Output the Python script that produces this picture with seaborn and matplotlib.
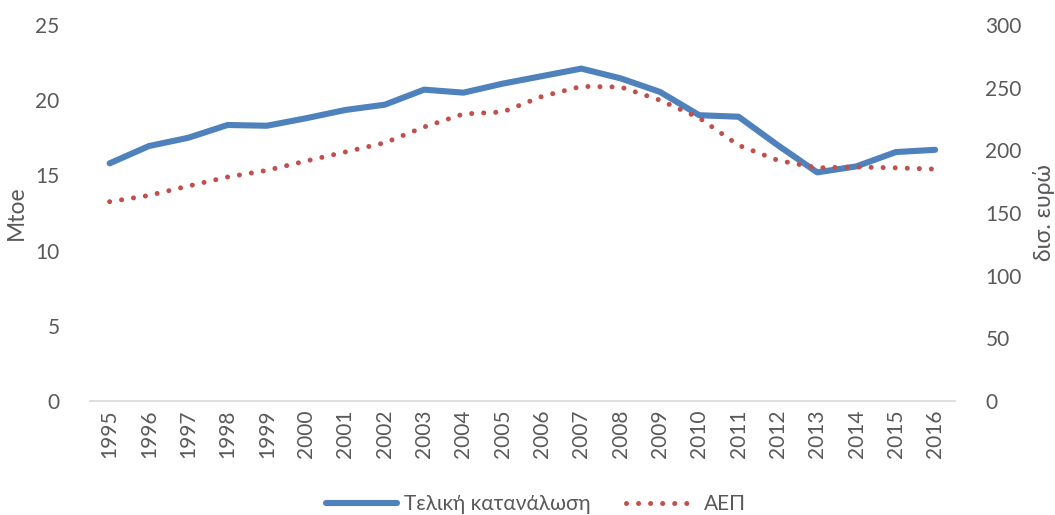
import matplotlib
matplotlib.use("Agg")
import matplotlib.pyplot as plt
import seaborn as sns
import pandas as pd

years = [str(y) for y in range(1995, 2017)]
consumption = [15.8, 16.95, 17.5, 18.35, 18.3, 18.8, 19.35, 19.7, 20.7, 20.5, 21.1,
               21.6, 22.1, 21.45, 20.55, 19.0, 18.9, 17.0, 15.2, 15.6, 16.55, 16.7]
gdp = [159, 164, 171.5, 178.7, 184, 191.5, 198.7, 206, 218.6, 229, 230.6,
       243, 251, 250.5, 240, 225.8, 204, 192, 186, 186.7, 186, 185]

sns.set_theme(style="white")
plt.rcParams['font.family'] = ['Lato', 'DejaVu Sans']
txt = '#595959'

df = pd.DataFrame({'year': years, 'cons': consumption, 'gdp': gdp})
df['x'] = range(len(years))

fig = plt.figure(figsize=(10.55, 5.15), dpi=100)
ax = fig.add_axes([0.0853, 0.2214, 0.8197, 0.7301])
ax2 = ax.twinx()

sns.lineplot(data=df, x='x', y='cons', ax=ax, color='#4F81BD', linewidth=4.4,
             solid_capstyle='round', solid_joinstyle='round',
             label='Τελική κατανάλωση', legend=False)
sns.lineplot(data=df, x='x', y='gdp', ax=ax2, color='#C0504D', linewidth=3.6,
             linestyle=(0, (0.01, 2.4)), dash_capstyle='round', label='ΑΕΠ', legend=False)

ax.set_xlim(-0.5, len(years) - 0.5)
ax.set_ylim(0, 25)
ax2.set_ylim(0, 300)
ax.set_yticks(range(0, 26, 5))
ax2.set_yticks(range(0, 301, 50))
ax.set_xticks(range(len(years)))
ax.set_xticklabels(years, rotation=90)

for a in (ax, ax2):
    for s in a.spines.values():
        s.set_visible(False)
    a.tick_params(length=0, colors=txt, labelsize=15)
    a.set_xlabel('')
ax.spines['bottom'].set_visible(True)
ax.spines['bottom'].set_color('#D9D9D9')
ax.spines['bottom'].set_linewidth(1.2)
ax.tick_params(axis='y', pad=22)
ax.tick_params(axis='x', pad=6)
ax2.tick_params(axis='y', pad=22)

ax.set_ylabel('Mtoe', color=txt, fontsize=16.5, labelpad=6)
ax2.set_ylabel('δισ. ευρώ', color=txt, fontsize=16.5, rotation=90, labelpad=8)

h1, l1 = ax.get_legend_handles_labels()
h2, l2 = ax2.get_legend_handles_labels()
fig.legend(h1 + h2, l1 + l2, loc='lower center', bbox_to_anchor=(0.508, -0.035), ncol=2,
           frameon=False, fontsize=15, labelcolor=txt, handlelength=3.4,
           columnspacing=1.7, handletextpad=0.35)

fig.savefig('out.png', dpi=100)
